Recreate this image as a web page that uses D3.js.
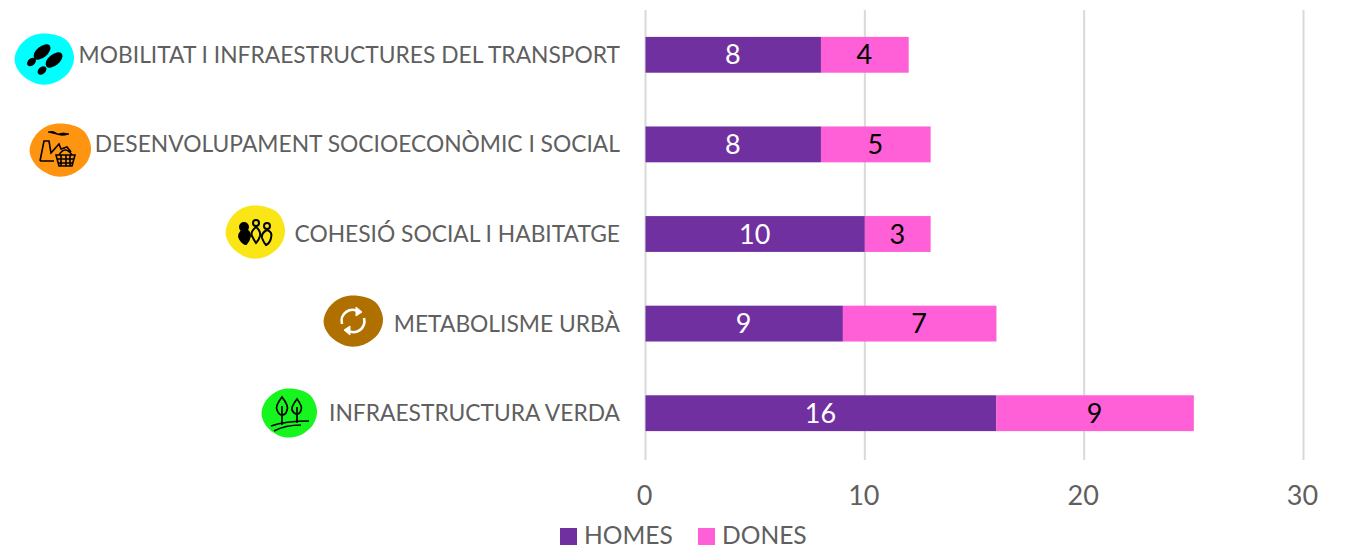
<!DOCTYPE html>
<html><head><meta charset="utf-8">
<script src="https://cdn.jsdelivr.net/npm/d3@7/dist/d3.min.js"></script>
<style>html,body{margin:0;padding:0;background:#fff}svg{display:block}text{font-family:Lato,"Open Sans",sans-serif}</style>
</head><body><svg id="c" width="1345" height="549"></svg>
<script>
const categories=["MOBILITAT I INFRAESTRUCTURES DEL TRANSPORT","DESENVOLUPAMENT SOCIOECONÒMIC I SOCIAL","COHESIÓ SOCIAL I HABITATGE","METABOLISME URBÀ","INFRAESTRUCTURA VERDA"];
const homes=[8,8,10,9,16];
const dones=[4,5,3,7,9];
const ticks=[0,10,20,30];
const seriesNames=["HOMES","DONES"];
const seriesColors=["#7030a0","#ff5fd7"];
const labelColors=["#ffffff","#000000"];
const svg=d3.select("#c");
const x=d3.scaleLinear().domain([0,30]).range([645.5,1303.5]);
const y=d3.scaleBand().domain(categories).range([10,458]).paddingInner(0.6).paddingOuter(0.3);
// gridlines
svg.append("g").selectAll("line").data(ticks).join("line")
 .attr("x1",d=>x(d)).attr("x2",d=>x(d)).attr("y1",10).attr("y2",460)
 .attr("stroke","#d9d9d9").attr("stroke-width",2);
// stacked bars
const rows=categories.map((c,i)=>({c,v:[homes[i],dones[i]]}));
rows.forEach(r=>{let s=0;r.v.forEach((v,k)=>{
  const g=svg.append("g");
  g.append("rect").attr("x",x(s)).attr("width",x(s+v)-x(s)).attr("y",y(r.c)).attr("height",y.bandwidth()).attr("fill",seriesColors[k]);
  g.append("text").attr("x",(x(s)+x(s+v))/2-0.5).attr("y",y(r.c)+y.bandwidth()/2+9.5).attr("text-anchor","middle").attr("font-size",27).attr("fill",labelColors[k]).text(v);
  s+=v;});});
// category labels
svg.append("g").selectAll("text").data(categories).join("text")
 .attr("x",620).attr("y",d=>y(d)+y.bandwidth()/2+8).attr("text-anchor","end").attr("font-size",22.8).attr("fill","#5f5f5f").text(d=>d);
// axis ticks
svg.append("g").selectAll("text").data(ticks).join("text")
 .attr("x",d=>x(d)-1).attr("y",505).attr("text-anchor","middle").attr("font-size",27).attr("fill","#5f5f5f").text(d=>d);
// legend
[[560,584],[698,722]].forEach((p,i)=>{
 svg.append("rect").attr("x",p[0]).attr("y",528).attr("width",17).attr("height",17).attr("fill",seriesColors[i]);
 svg.append("text").attr("x",p[1]).attr("y",544).attr("font-size",24.6).attr("fill","#5f5f5f").text(seriesNames[i]);
});
// hand-drawn icon badges
function blob(cx,cy,rx,ry,fill){
 const pts=[[-.98,.05],[-.8,-.55],[-.35,-.95],[.2,-1],[.75,-.75],[1,-.1],[.85,.5],[.35,.95],[-.2,1],[-.75,.62]];
 const line=d3.line().curve(d3.curveCatmullRomClosed);
 svg.append("path").attr("transform",`translate(${cx},${cy})`).attr("d",line(pts.map(p=>[p[0]*rx,p[1]*ry]))).attr("fill",fill);
}
// footprints
blob(44,59,30,25,"#00ffff");
[[42,52,10,5.5],[31.5,62,5,3.5],[54,60,10,5.5],[42,70.5,5,3.5]].forEach(e=>
 svg.append("ellipse").attr("transform",`translate(${e[0]},${e[1]}) rotate(-40)`).attr("rx",e[2]).attr("ry",e[3]).attr("fill","#000"));
// factory and basket
blob(60,150,31,26,"#ff9410");
const fa=svg.append("g").attr("transform","translate(60,150)").attr("fill","none").attr("stroke","#000").attr("stroke-width",1.6);
fa.append("path").attr("d","M-20 11L-16 -9L-11 -9L-9 3L-1 -6L1 -1L7 -3L11 2M-20 11L-6 11");
fa.append("path").attr("d","M-12 -18Q-4 -16 0 -15Q4 -14 9 -16Q3 -18 -2 -16Q-7 -20 -12 -18Z").attr("fill","#000").attr("stroke-width",.8);
fa.append("path").attr("d","M-4 5L15 5L12 16L-1 16ZM1 5V16M6 5V16M10 5V16M-3 9H14M-2 13H13");
fa.append("path").attr("d","M-1 5Q5 -5 12 5");
// people
blob(255,232,30,26,"#fae616");
const pe=svg.append("g").attr("transform","translate(255,232)").attr("stroke","#000").attr("stroke-width",2);
pe.append("circle").attr("cx",-11).attr("cy",-5).attr("r",4).attr("fill","#000");
pe.append("path").attr("d","M-11 -3Q-18 2 -15 7Q-12 12 -9 12Q-6 9 -5 4Q-5 -1 -11 -3Z").attr("fill","#000");
pe.append("circle").attr("cx",1).attr("cy",-9).attr("r",3).attr("fill","none");
pe.append("path").attr("d","M1 -5Q-5 0 -3 4Q-1 8 1 11Q4 8 5 4Q6 -1 1 -5Z").attr("fill","none");
pe.append("circle").attr("cx",12).attr("cy",-6).attr("r",3).attr("fill","none");
pe.append("path").attr("d","M12 -2Q6 1 7 6Q9 11 11 13Q15 11 16 6Q18 0 12 -2Z").attr("fill","none");
// recycle arrows
blob(353,321,30,25,"#b07000");
const re=svg.append("g").attr("transform","translate(353,321)").attr("fill","none").attr("stroke","#fff").attr("stroke-width",2.6);
re.append("path").attr("d","M-11 3A11 11 0 0 1 6 -9");
re.append("path").attr("d","M11 -3A11 11 0 0 1 -6 9");
re.append("path").attr("d","M3 -14L9 -9L3 -5Z").attr("fill","#fff").attr("stroke-width",1);
re.append("path").attr("d","M-3 14L-9 9L-3 5Z").attr("fill","#fff").attr("stroke-width",1);
// trees
blob(289,413,28,24,"#17f51e");
const tr=svg.append("g").attr("transform","translate(289,413)").attr("fill","none").attr("stroke","#000").attr("stroke-width",1.7);
tr.append("path").attr("d","M-7 -16Q-14 -7 -12 -3Q-10 2 -7 2Q-3 2 -2 -3Q0 -7 -7 -16ZM-7 -7V12");
tr.append("path").attr("d","M8 -14Q2 -6 3 -3Q5 1 8 1Q11 1 12 -3Q14 -6 8 -14ZM8 -6V10");
tr.append("path").attr("d","M-18 13Q-4 8 20 8M-15 18Q-4 12 12 12");
</script></body></html>
